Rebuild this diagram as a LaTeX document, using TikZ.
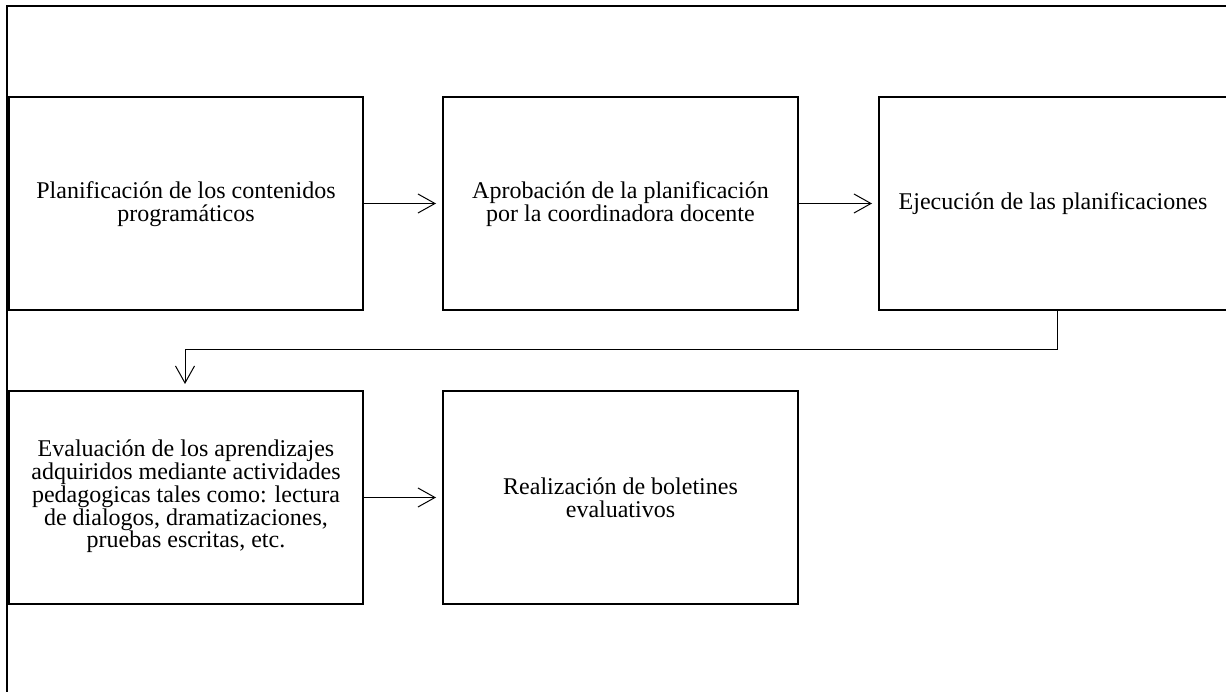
\documentclass[tikz,border=0pt]{standalone}
\usepackage{fontspec}
\setmainfont{Liberation Serif}
\usetikzlibrary{arrows.meta,calc}
\begin{document}
\begin{tikzpicture}[x=1pt,y=-1pt,
  box/.style={draw,line width=2pt,anchor=north west,inner sep=0pt},
  txt/.style={align=center,inner sep=0pt,font=\fontsize{24}{22.8}\selectfont},
  conn/.style={line width=1pt,-{Straight Barb[length=17pt,width=19pt,line width=1pt]},shorten >=6pt}]
\useasboundingbox (0,0) rectangle (1226,692);
\clip (0,0) rectangle (1226,692);
\draw[line width=2pt] (7,692) -- (7,6) -- (1230,6);
\node[box,minimum width=354pt,minimum height=213pt] (b1) at (8,96) {};
\node[box,minimum width=355pt,minimum height=213pt] (b2) at (442,96) {};
\node[box,minimum width=348pt,minimum height=213pt] (b3) at (878,96) {};
\node[box,minimum width=354pt,minimum height=213pt] (b4) at (8,390) {};
\node[box,minimum width=355pt,minimum height=213pt] (b5) at (442,390) {};
\node[txt] (t1) at ($(b1.center)+(0,1)$) {Planificación de los contenidos\\programáticos};
\node[txt] (t2) at ($(b2.center)+(0,1)$) {Aprobación de la planificación\\por la coordinadora docente};
\node[txt] (t3) at ($(b3.center)+(0,0)$) {Ejecución de las planificaciones};
\node[txt] (t4) at ($(b4.center)+(0,-1)$) {Evaluación de los aprendizajes\\adquiridos mediante actividades\\pedagogicas tales como: lectura\\de dialogos, dramatizaciones,\\pruebas escritas, etc.};
\node[txt] (t5) at ($(b5.center)+(0,0)$) {Realización de boletines\\evaluativos};
\coordinate (c1) at (1057,350);
\coordinate (c2) at (185,350);
\draw[conn] (b1) -- (b2);
\draw[conn] (b2) -- (b3);
\draw[conn] (b3.south -| c1) -- (c1) -- (c2) -- (c2 |- b4.north);
\draw[conn] (b4) -- (b5);
\end{tikzpicture}
\end{document}
